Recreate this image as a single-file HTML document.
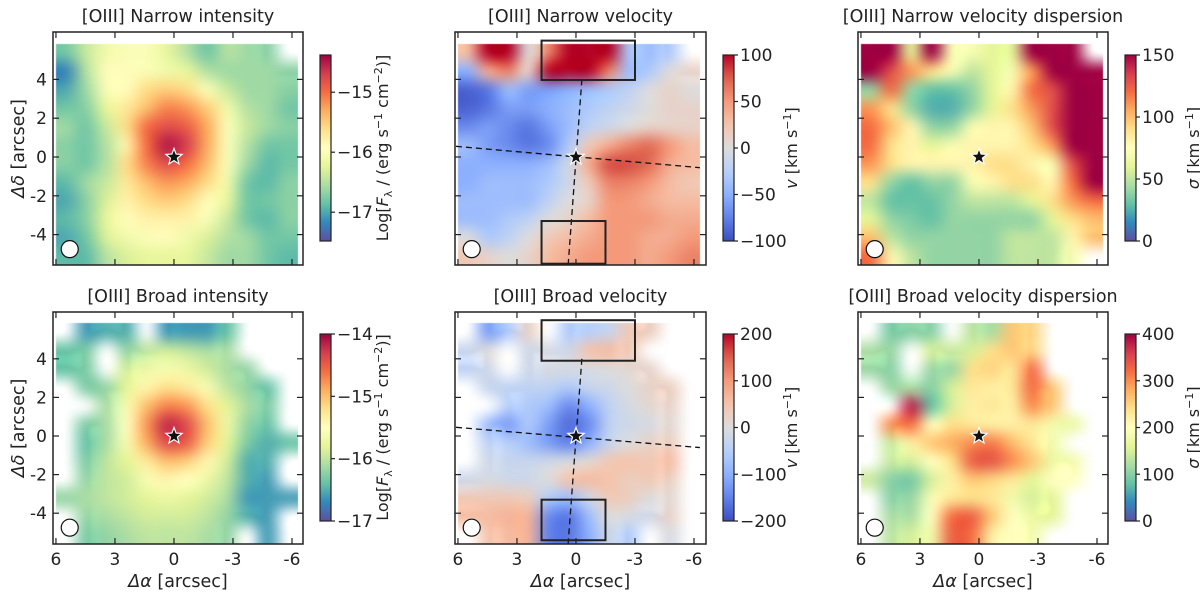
<!DOCTYPE html>
<html><head><meta charset="utf-8">
<style>
body{margin:0;background:#fff;width:1200px;height:597px;overflow:hidden;position:relative;font-family:"DejaVu Sans","Liberation Sans",sans-serif}
canvas{position:absolute}
svg{position:absolute;left:0;top:0;font-family:"DejaVu Sans","Liberation Sans",sans-serif}
</style></head><body>
<svg id="fig" width="1200" height="597"></svg>
<script>
// ---- data grids (12 cols from dRA=+6 to -6.3, 12 rows from dDec=+5.85 to -5.6) ----
const niRows=[
[-16.8,-16.4,-16.1,-16.0,-16.0,-16.2,-16.5,-16.8,-16.5,-16.6,-16.7,null],
[-17.2,-16.5,-15.9,-15.9,-16.0,-16.1,-16.2,-16.5,-16.6,-16.6,-16.6,-16.7],
[-17.0,-16.6,-16.0,-15.9,-15.6,-15.5,-15.6,-16.0,-16.4,-16.6,-16.6,-16.7],
[-16.8,-16.7,-16.2,-15.7,-15.4,-15.1,-15.2,-15.5,-16.1,-16.5,-16.6,-16.8],
[-16.6,-16.8,-16.4,-15.6,-15.0,-14.8,-14.9,-15.3,-16.0,-16.4,-16.6,-16.7],
[-16.7,-16.8,-16.5,-15.8,-15.0,-14.5,-14.7,-15.3,-16.0,-16.5,-16.8,-16.8],
[-16.7,-16.8,-16.5,-15.6,-15.1,-14.8,-15.0,-15.4,-16.0,-16.6,-16.9,-16.8],
[-16.9,-16.6,-16.4,-15.7,-15.4,-15.2,-15.3,-15.6,-16.1,-16.8,-16.9,-16.7],
[-17.0,-16.7,-16.3,-15.8,-15.6,-15.5,-15.6,-15.9,-16.2,-16.8,-16.8,-16.7],
[-16.9,-16.7,-16.2,-15.9,-15.8,-15.8,-15.8,-16.0,-16.4,-16.8,-16.9,-16.7],
[-17.0,-16.8,-16.3,-16.1,-16.0,-15.9,-16.1,-16.3,-16.5,-16.6,-16.8,-16.8],
[-16.9,-16.9,-16.5,-16.3,-16.2,-16.2,-16.2,-16.4,-16.6,-16.6,-16.8,-16.9]];
const nvRows=[
[30,100,100,0,60,100,100,100,-30,-40,-30,null],
[-50,40,60,10,100,100,100,60,-40,-30,0,10],
[-90,-80,-40,-60,-60,-50,-40,-30,-20,0,10,0],
[-90,-80,-60,-60,-50,-40,-30,-20,-10,0,10,10],
[-70,-60,-70,-80,-60,-40,-20,-10,0,10,10,10],
[-40,-60,-70,-80,-70,-30,20,40,60,70,50,30],
[-50,-50,-50,-50,-40,-10,40,80,80,70,40,30],
[-50,-40,-40,-40,-30,-10,20,60,60,50,30,20],
[-40,-40,-40,-40,-20,0,10,50,50,40,30,30],
[-40,-40,-30,-20,0,10,30,50,50,50,40,40],
[0,-30,-20,0,20,30,40,50,50,40,40,50],
[20,10,0,10,30,40,50,50,50,40,50,60]];
const nsRows=[
[150,150,60,150,70,70,60,60,150,150,150,null],
[150,130,110,90,70,50,60,70,110,150,150,150],
[40,120,40,30,30,40,60,80,120,130,150,150],
[110,90,40,25,25,40,60,90,110,130,150,150],
[120,100,80,40,40,70,80,80,100,130,150,150],
[120,90,80,60,70,80,80,80,90,110,150,150],
[110,90,80,80,80,80,90,90,80,70,130,150],
[90,40,30,40,40,70,80,90,90,80,120,150],
[50,30,30,30,40,50,50,50,60,90,110,120],
[60,40,35,30,40,40,40,40,40,60,90,100],
[100,50,40,40,40,40,40,50,50,50,80,100],
[120,80,50,40,40,40,40,50,50,50,70,null]];
const biRows=[
[null,-16.6,-16.5,-16.5,null,-16.6,-16.6,-16.6,-16.4,null,null,null],
[-16.4,-16.3,null,-16.2,-16.0,-15.9,-16.0,-16.1,-16.1,null,null,null],
[-16.4,-16.3,null,-15.9,-15.7,-15.6,-15.7,-15.9,-16.1,-16.2,null,null],
[null,-16.3,-16.2,-15.8,-15.4,-15.2,-15.3,-15.6,-16.0,-16.2,-16.4,null],
[null,null,-16.1,-15.6,-15.0,-14.7,-14.8,-15.2,-15.8,-16.1,-16.3,null],
[null,-16.3,-16.1,-15.5,-14.8,-14.2,-14.4,-15.0,-15.7,-16.2,-16.4,null],
[null,-16.4,-16.1,-15.6,-14.9,-14.4,-14.5,-15.1,-15.8,-16.3,-16.5,-16.4],
[null,-16.3,-16.0,-15.8,-15.3,-15.0,-15.1,-15.4,-15.9,-16.5,-16.5,null],
[null,-16.2,-16.0,-15.9,-15.6,-15.4,-15.5,-15.7,-16.0,-16.5,-16.6,null],
[-16.2,-16.1,-16.0,-15.9,-15.8,-15.7,-15.8,-15.9,-16.1,-16.6,-16.6,-16.6],
[null,-16.2,-16.1,-16.0,-15.9,-15.9,-15.9,-16.0,-16.2,-16.5,-16.6,null],
[null,-16.3,-16.2,-16.1,-16.0,-16.0,-16.0,-16.1,-16.2,null,-16.6,null]];
const bvRows=[
[null,-120,-60,20,null,-60,-50,-30,40,30,null,null],
[-30,0,null,-20,-10,-20,50,60,40,null,null,null],
[-40,-20,null,-20,-10,-10,-10,0,10,20,null,null],
[null,-30,-40,-40,-40,-60,-30,-20,0,20,30,null],
[null,null,-50,-60,-80,-140,-100,-40,-10,10,20,null],
[null,-80,-120,-60,-120,-170,-140,-40,-20,-10,10,null],
[null,-40,-50,-80,-120,-150,-100,-30,0,20,30,null],
[null,-20,-30,-30,-20,-10,10,40,50,40,60,null],
[-20,-10,-20,-20,0,50,60,50,30,40,30,null],
[40,40,40,30,-60,-80,-20,40,30,0,10,null],
[60,60,70,70,-140,-160,-80,0,-10,-20,20,null],
[null,50,60,70,-150,-160,-100,-20,-60,null,-10,null]];
const bsRows=[
[null,90,100,100,null,130,120,260,250,null,null,null],
[120,110,null,150,140,150,240,260,250,null,null,null],
[110,100,null,110,110,240,250,230,320,null,null,null],
[null,110,120,100,150,230,220,230,320,260,null,null],
[null,null,380,80,150,220,230,220,300,260,null,null],
[null,300,320,200,240,230,220,220,230,180,170,null],
[null,140,220,260,280,300,310,270,230,180,null,null],
[null,140,150,200,240,330,340,300,260,170,180,null],
[140,100,90,150,220,260,250,230,160,200,200,null],
[null,100,110,190,230,240,230,180,150,160,null,null],
[null,120,120,200,320,330,260,200,170,160,null,null],
[null,130,150,180,330,320,220,200,180,null,null,null]];
const xTicks=[6,3,0,-3,-6];
const yTicks=[4,2,0,-2,-4];
const cbTicks1=[-15,-16,-17], cbTicks2=[100,50,0,-50,-100], cbTicks3=[150,100,50,0];
const cbTicks4=[-14,-15,-16,-17], cbTicks5=[200,100,0,-100,-200], cbTicks6=[400,300,200,100,0];

const spectral=['#5e4fa2','#3288bd','#66c2a5','#abdda4','#e6f598','#ffffbf','#fee08b','#fdae61','#f46d43','#d53e4f','#9e0142'];
const coolwarm=['#3b4cc0','#6282ea','#8db0fe','#b8d0f9','#dddcdc','#f5c4ac','#f49a7b','#de604d','#b40426'];
function hex(h){return [parseInt(h.slice(1,3),16),parseInt(h.slice(3,5),16),parseInt(h.slice(5,7),16)];}
function cmap(stops,t){t=Math.max(0,Math.min(1,t));const n=stops.length-1;const i=Math.min(n-1,Math.floor(t*n));const f=t*n-i;const a=hex(stops[i]),b=hex(stops[i+1]);return a.map((v,k)=>Math.round(v+(b[k]-v)*f));}

const NS='http://www.w3.org/2000/svg';
const fig=document.getElementById('fig');
function el(tag,attrs,parent){const e=document.createElementNS(NS,tag);for(const k in attrs)e.setAttribute(k,attrs[k]);(parent||fig).appendChild(e);return e;}

const cols=[[53,303],[455,706],[858,1108]];
const rows=[{top:32,bot:265,zero:157,s:19.4},{top:312,bot:544,zero:436,s:19.3}];
const panels=[
 {r:0,c:0,data:niRows,cm:spectral,min:-17.48,max:-14.38,ticks:cbTicks1,title:'[OIII] Narrow intensity',cbl:'int',name:'narrow-intensity'},
 {r:0,c:1,data:nvRows,cm:coolwarm,min:-100,max:100,ticks:cbTicks2,title:'[OIII] Narrow velocity',cbl:'v',name:'narrow-velocity',vel:{hl:[0.55,-0.55],boxes:[[1.75,-3.0,6.0,3.97],[1.75,-1.5,-3.3,-5.5]]}},
 {r:0,c:2,data:nsRows,cm:spectral,min:0,max:150,ticks:cbTicks3,title:'[OIII] Narrow velocity dispersion',cbl:'s',name:'narrow-dispersion'},
 {r:1,c:0,data:biRows,cm:spectral,min:-17,max:-14,ticks:cbTicks4,title:'[OIII] Broad intensity',cbl:'int',name:'broad-intensity'},
 {r:1,c:1,data:bvRows,cm:coolwarm,min:-200,max:200,ticks:cbTicks5,title:'[OIII] Broad velocity',cbl:'v',name:'broad-velocity',vel:{hl:[0.45,-0.6],boxes:[[1.75,-3.0,6.0,3.9],[1.75,-1.5,-3.3,-5.4]]}},
 {r:1,c:2,data:bsRows,cm:spectral,min:0,max:400,ticks:cbTicks6,title:'[OIII] Broad velocity dispersion',cbl:'s',name:'broad-dispersion'}
];

panels.forEach(p=>{
  const [x0,x1]=cols[p.c]; const R=rows[p.r];
  const sx=19.67;
  const X=v=>x0+(6.15-v)*sx;
  const Y=v=>R.zero-v*R.s;
  const nr=p.data.length,nc=p.data[0].length;
  const small=document.createElement('canvas');small.width=nc;small.height=nr;
  const sctx=small.getContext('2d');const img=sctx.createImageData(nc,nr);
  p.data.forEach((row,i)=>row.forEach((v,j)=>{const o=(i*nc+j)*4;
    if(v===null){img.data[o+3]=0;return;}
    const c=cmap(p.cm,(v-p.min)/(p.max-p.min));img.data[o]=c[0];img.data[o+1]=c[1];img.data[o+2]=c[2];img.data[o+3]=255;}));
  sctx.putImageData(img,0,0);
  const cv=document.createElement('canvas');
  
  
  cv.width=x1-x0;cv.height=R.bot-R.top;cv.style.left=x0+'px';cv.style.top=R.top+'px';
  document.body.insertBefore(cv,fig);
  const ctx=cv.getContext('2d');ctx.imageSmoothingEnabled=true;ctx.imageSmoothingQuality='high';
  const dx=X(6.0)-x0,dy=Y(5.85)-R.top,dw=X(-6.3)-X(6.0),dh=Y(-5.6)-Y(5.85);
  ctx.drawImage(small,dx,dy,dw,dh);

  const g=el('g',{});
  
  
  if(p.vel){
    el('line',{x1:X(6.1),y1:Y(p.vel.hl[0]),x2:X(-6.3),y2:Y(p.vel.hl[1]),stroke:'#111','stroke-width':1.3,'stroke-dasharray':'6,4'},g);
    el('line',{x1:X(-0.3),y1:Y(4.0),x2:X(0.4),y2:Y(-5.6),stroke:'#111','stroke-width':1.3,'stroke-dasharray':'6,4'},g);
    p.vel.boxes.forEach(b=>{const bx=el('rect',{x:X(b[0]),y:Y(b[2]),width:X(b[1])-X(b[0]),height:Y(b[3])-Y(b[2]),fill:'none',stroke:'#222','stroke-width':2},g);
      });
  }
  const bm=el('circle',{cx:X(5.3),cy:Y(-4.75),r:8.5,fill:'#fff',stroke:'#111','stroke-width':1.2},g);
  
  const cxs=X(0),cys=Y(0);let pts=[];
  for(let k=0;k<10;k++){const r=k%2?3.6:8.5;const a=-Math.PI/2+k*Math.PI/5;pts.push((cxs+r*Math.cos(a)).toFixed(1)+','+(cys+r*Math.sin(a)).toFixed(1));}
  const st=el('polygon',{points:pts.join(' '),fill:'#111',stroke:'#fff','stroke-width':1.2},g);
  
  el('rect',{x:x0,y:R.top,width:x1-x0,height:R.bot-R.top,fill:'none',stroke:'#222','stroke-width':1.5},g);
  xTicks.forEach(t=>{const x=X(t);el('line',{x1:x,y1:R.bot,x2:x,y2:R.bot-6,stroke:'#222','stroke-width':1.2},g);el('line',{x1:x,y1:R.top,x2:x,y2:R.top+6,stroke:'#222','stroke-width':1.2},g);
    if(p.r===1){const tl=el('text',{x:x,y:R.bot+21,'text-anchor':'middle','font-size':17,fill:'#222'},g);tl.textContent=t;}});
  yTicks.forEach(t=>{const y=Y(t);el('line',{x1:x0,y1:y,x2:x0+6,y2:y,stroke:'#222','stroke-width':1.2},g);el('line',{x1:x1,y1:y,x2:x1-6,y2:y,stroke:'#222','stroke-width':1.2},g);
    if(p.c===0){const tl=el('text',{x:x0-6,y:y+6,'text-anchor':'end','font-size':17,fill:'#222'},g);tl.textContent=t;}});
  const tt=el('text',{x:(x0+x1)/2,y:R.top-10,'text-anchor':'middle','font-size':17.5,fill:'#222'},g);tt.textContent=p.title;
  
  if(p.c===0){const yl=el('text',{x:0,y:0,'text-anchor':'middle','font-size':17.5,fill:'#222',transform:`translate(24,${(R.top+R.bot)/2}) rotate(-90)`},g);
    yl.innerHTML='<tspan font-style="italic">Δδ</tspan> [arcsec]';}
  if(p.r===1){const xl=el('text',{x:(x0+x1)/2,y:587,'text-anchor':'middle','font-size':17.5,fill:'#222'},g);
    xl.innerHTML='<tspan font-style="italic">Δα</tspan> [arcsec]';}
  const cbx=x1+17,cbw=11,cbt=p.r===0?55:334,cbb=p.r===0?241:521;
  const gid='grad'+p.name;const defs=el('defs',{},g);const lg=el('linearGradient',{id:gid,x1:0,y1:1,x2:0,y2:0},defs);
  for(let k=0;k<=20;k++){const c=cmap(p.cm,k/20);el('stop',{offset:k/20,'stop-color':`rgb(${c})`},lg);}
  const cb=el('rect',{x:cbx,y:cbt,width:cbw,height:cbb-cbt,fill:`url(#${gid})`,stroke:'#222','stroke-width':1.2},g);
  
  const CY=v=>cbb-(v-p.min)/(p.max-p.min)*(cbb-cbt);
  p.ticks.forEach(t=>{const y=CY(t);el('line',{x1:cbx+cbw,y1:y,x2:cbx+cbw+4,y2:y,stroke:'#222','stroke-width':1.2},g);
    const tl=el('text',{x:cbx+cbw+6,y:y+6,'font-size':17,fill:'#222'},g);tl.textContent=String(t).replace('-','−');
    });
  const lx=p.cbl==='int'?cbx+68:cbx+74;
  const cl=el('text',{x:0,y:0,'text-anchor':'middle','font-size':16,fill:'#222',transform:`translate(${lx},${(cbt+cbb)/2}) rotate(-90)`},g);
  if(p.cbl==='int')cl.innerHTML='Log[<tspan font-style="italic">F</tspan><tspan font-size="11" dy="4">λ</tspan><tspan dy="-4"> / (erg s</tspan><tspan font-size="11" dy="-6">−1</tspan><tspan dy="6"> cm</tspan><tspan font-size="11" dy="-6">−2</tspan><tspan dy="6">)]</tspan>';
  else if(p.cbl==='v')cl.innerHTML='<tspan font-style="italic">v</tspan> [km s<tspan font-size="11" dy="-6">−1</tspan><tspan dy="6">]</tspan>';
  else cl.innerHTML='<tspan font-style="italic">σ</tspan> [km s<tspan font-size="11" dy="-6">−1</tspan><tspan dy="6">]</tspan>';
  
});
</script>
</body></html>
